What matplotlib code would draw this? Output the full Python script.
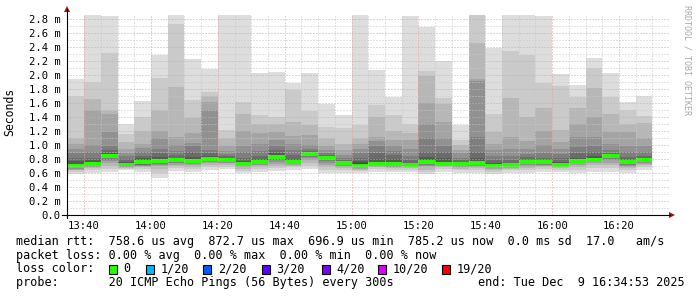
import matplotlib.pyplot as plt
from matplotlib.patches import Rectangle, Polygon
from matplotlib.lines import Line2D
from matplotlib.ticker import MultipleLocator

# minutes after 13:00, window is 13:34:53 .. 16:34:53
t_start = 34 + 53 / 60
t_end = t_start + 180
step = 5
bar_left = [35 + step * i for i in range(35)]

# sorted pings per 5 min step (ms): upper half p20..p11, lower half p1..p10
ping_hi = [
    [1.94, 1.70, 1.10, 1.02, 0.95, 0.88, 0.82, 0.77, 0.73, 0.71],
    [3.10, 1.90, 1.66, 1.50, 1.00, 0.90, 0.82, 0.78, 0.75, 0.735],
    [2.84, 2.32, 1.50, 1.44, 1.18, 0.98, 0.93, 0.89, 0.87, 0.855],
    [1.30, 1.16, 1.05, 0.95, 0.88, 0.84, 0.80, 0.76, 0.74, 0.725],
    [1.63, 1.40, 1.20, 1.01, 0.96, 0.90, 0.85, 0.81, 0.78, 0.765],
    [2.28, 1.96, 1.50, 1.20, 1.10, 0.95, 0.88, 0.83, 0.80, 0.78],
    [3.10, 2.73, 1.83, 1.12, 1.00, 0.92, 0.86, 0.82, 0.80, 0.79],
    [2.23, 1.65, 1.38, 1.17, 1.03, 0.99, 0.90, 0.83, 0.80, 0.785],
    [2.09, 1.76, 1.70, 1.62, 1.50, 0.93, 0.88, 0.84, 0.82, 0.81],
    [3.10, 1.22, 1.10, 0.98, 0.92, 0.87, 0.84, 0.82, 0.80, 0.795],
    [3.10, 1.62, 1.45, 1.20, 0.99, 0.90, 0.81, 0.77, 0.75, 0.74],
    [2.03, 1.43, 1.30, 1.17, 1.01, 0.92, 0.85, 0.80, 0.775, 0.765],
    [2.05, 1.40, 1.30, 1.19, 1.07, 0.98, 0.93, 0.88, 0.85, 0.84],
    [1.89, 1.78, 1.33, 1.13, 1.02, 0.93, 0.86, 0.80, 0.77, 0.76],
    [2.03, 1.49, 1.29, 1.15, 1.00, 0.95, 0.92, 0.90, 0.885, 0.875],
    [1.59, 1.26, 1.10, 0.98, 0.93, 0.89, 0.86, 0.84, 0.83, 0.825],
    [1.43, 1.25, 1.02, 0.93, 0.86, 0.81, 0.78, 0.76, 0.75, 0.745],
    [3.10, 1.29, 1.10, 1.02, 0.95, 0.88, 0.82, 0.77, 0.74, 0.71],
    [2.07, 1.57, 1.40, 1.12, 1.05, 0.98, 0.88, 0.80, 0.76, 0.74],
    [1.68, 1.43, 1.20, 1.07, 0.98, 0.92, 0.86, 0.80, 0.75, 0.735],
    [2.84, 1.30, 1.17, 1.07, 0.95, 0.85, 0.78, 0.75, 0.73, 0.72],
    [2.69, 2.06, 1.98, 1.60, 1.30, 1.10, 0.90, 0.83, 0.78, 0.76],
    [2.20, 1.67, 1.58, 1.33, 1.10, 0.98, 0.90, 0.82, 0.76, 0.74],
    [1.29, 1.07, 1.00, 0.93, 0.88, 0.82, 0.78, 0.75, 0.735, 0.73],
    [3.10, 3.00, 2.46, 1.95, 1.92, 1.12, 0.90, 0.81, 0.76, 0.745],
    [2.38, 1.44, 1.19, 1.02, 0.93, 0.85, 0.78, 0.74, 0.715, 0.705],
    [3.10, 2.34, 1.67, 1.12, 0.95, 0.85, 0.78, 0.74, 0.725, 0.718],
    [3.10, 2.28, 1.40, 1.06, 0.95, 0.87, 0.83, 0.79, 0.775, 0.765],
    [2.84, 1.88, 1.53, 1.20, 1.00, 0.88, 0.81, 0.78, 0.76, 0.755],
    [2.01, 1.84, 1.22, 1.05, 0.95, 0.87, 0.81, 0.76, 0.73, 0.72],
    [1.86, 1.69, 1.53, 1.30, 1.12, 0.97, 0.88, 0.82, 0.79, 0.78],
    [2.25, 2.10, 1.82, 1.40, 1.12, 0.98, 0.90, 0.84, 0.81, 0.795],
    [2.03, 1.69, 1.45, 1.19, 1.02, 0.93, 0.89, 0.87, 0.855, 0.848],
    [1.61, 1.50, 1.30, 1.19, 0.98, 0.90, 0.83, 0.78, 0.76, 0.755],
    [1.70, 1.41, 1.31, 1.10, 0.98, 0.90, 0.85, 0.82, 0.80, 0.79],
]
ping_lo = [
    [0.58, 0.62, 0.64, 0.65, 0.66, 0.67, 0.68, 0.685, 0.69, 0.695],
    [0.60, 0.65, 0.67, 0.68, 0.69, 0.70, 0.71, 0.715, 0.72, 0.725],
    [0.62, 0.66, 0.70, 0.74, 0.77, 0.79, 0.81, 0.825, 0.835, 0.84],
    [0.64, 0.66, 0.67, 0.68, 0.69, 0.70, 0.705, 0.71, 0.715, 0.718],
    [0.62, 0.66, 0.68, 0.69, 0.70, 0.71, 0.72, 0.73, 0.74, 0.75],
    [0.53, 0.60, 0.66, 0.70, 0.72, 0.735, 0.745, 0.755, 0.76, 0.765],
    [0.63, 0.67, 0.70, 0.72, 0.74, 0.75, 0.76, 0.77, 0.775, 0.78],
    [0.62, 0.66, 0.69, 0.71, 0.73, 0.745, 0.755, 0.765, 0.77, 0.775],
    [0.64, 0.68, 0.71, 0.74, 0.76, 0.78, 0.79, 0.795, 0.80, 0.803],
    [0.66, 0.69, 0.72, 0.74, 0.75, 0.76, 0.77, 0.78, 0.785, 0.79],
    [0.60, 0.63, 0.66, 0.68, 0.70, 0.71, 0.715, 0.72, 0.725, 0.73],
    [0.62, 0.66, 0.69, 0.71, 0.72, 0.73, 0.74, 0.745, 0.75, 0.755],
    [0.63, 0.67, 0.70, 0.73, 0.76, 0.78, 0.80, 0.815, 0.825, 0.83],
    [0.64, 0.68, 0.70, 0.715, 0.725, 0.73, 0.74, 0.745, 0.748, 0.75],
    [0.66, 0.70, 0.74, 0.78, 0.81, 0.83, 0.845, 0.855, 0.86, 0.867],
    [0.60, 0.65, 0.69, 0.72, 0.75, 0.77, 0.79, 0.80, 0.81, 0.815],
    [0.60, 0.64, 0.67, 0.69, 0.70, 0.71, 0.72, 0.73, 0.735, 0.74],
    [0.60, 0.63, 0.65, 0.66, 0.67, 0.68, 0.685, 0.69, 0.695, 0.70],
    [0.62, 0.66, 0.68, 0.69, 0.70, 0.71, 0.715, 0.72, 0.725, 0.728],
    [0.61, 0.65, 0.67, 0.68, 0.69, 0.70, 0.705, 0.71, 0.715, 0.72],
    [0.62, 0.65, 0.67, 0.68, 0.69, 0.695, 0.70, 0.705, 0.71, 0.712],
    [0.58, 0.62, 0.65, 0.68, 0.70, 0.72, 0.73, 0.74, 0.745, 0.75],
    [0.62, 0.66, 0.68, 0.70, 0.71, 0.715, 0.72, 0.725, 0.728, 0.73],
    [0.60, 0.64, 0.66, 0.68, 0.69, 0.70, 0.705, 0.71, 0.715, 0.72],
    [0.60, 0.64, 0.67, 0.69, 0.70, 0.71, 0.72, 0.725, 0.73, 0.735],
    [0.58, 0.62, 0.64, 0.655, 0.665, 0.675, 0.685, 0.69, 0.695, 0.698],
    [0.60, 0.64, 0.66, 0.67, 0.68, 0.69, 0.70, 0.705, 0.71, 0.712],
    [0.60, 0.64, 0.67, 0.69, 0.71, 0.725, 0.735, 0.745, 0.75, 0.758],
    [0.62, 0.66, 0.68, 0.70, 0.71, 0.72, 0.73, 0.74, 0.745, 0.75],
    [0.62, 0.65, 0.67, 0.68, 0.69, 0.695, 0.70, 0.705, 0.71, 0.712],
    [0.60, 0.65, 0.69, 0.72, 0.74, 0.75, 0.76, 0.765, 0.77, 0.773],
    [0.62, 0.67, 0.71, 0.74, 0.76, 0.77, 0.775, 0.78, 0.785, 0.788],
    [0.62, 0.67, 0.71, 0.75, 0.78, 0.80, 0.815, 0.825, 0.835, 0.84],
    [0.60, 0.64, 0.67, 0.69, 0.70, 0.715, 0.725, 0.735, 0.745, 0.75],
    [0.64, 0.68, 0.71, 0.73, 0.75, 0.76, 0.77, 0.775, 0.78, 0.783],
]
median = [0.700, 0.729, 0.847, 0.720, 0.757, 0.771, 0.786, 0.776, 0.805, 0.790,
          0.733, 0.757, 0.833, 0.752, 0.871, 0.819, 0.743, 0.700, 0.729, 0.724,
          0.714, 0.752, 0.729, 0.724, 0.738, 0.700, 0.714, 0.762, 0.752, 0.714,
          0.776, 0.790, 0.843, 0.752, 0.786]

x_ticks = [40, 60, 80, 100, 120, 140, 160, 180, 200]
x_labels = ["13:40", "14:00", "14:20", "14:40", "15:00", "15:20", "15:40", "16:00", "16:20"]
y_ticks = [0.0, 0.2, 0.4, 0.6, 0.8, 1.0, 1.2, 1.4, 1.6, 1.8, 2.0, 2.2, 2.4, 2.6, 2.8]

loss_labels = ["0", "1/20", "2/20", "3/20", "4/20", "10/20", "19/20"]
loss_colors = ["#26ff00", "#00b8ff", "#0059ff", "#5e00ff", "#7e00ff", "#dd00ff", "#ff0000"]

mono = "DejaVu Sans Mono"
W, H = 697, 297


def fx(x):
    return x / W


def fy(y):
    return 1 - y / H


fig = plt.figure(figsize=(W / 100, H / 100), dpi=100)
fig.patch.set_facecolor("white")
ax = fig.add_axes([fx(67), fy(215), 601.8 / W, 200 / H])
ax.set_xlim(t_start, t_end)
ax.set_ylim(0, 200 / 70)

# smoke: outer pair lightest, inner pairs darker (smokeping shading)
for k in range(10):
    g = int(190 / 10 * (10 - (k + 1))) + 50
    col = "#%02x%02x%02x" % (g, g, g)
    bottoms = [lo[k] for lo in ping_lo]
    heights = [hi[k] - lo[k] for hi, lo in zip(ping_hi, ping_lo)]
    ax.bar(bar_left, heights, bottom=bottoms, width=step, align="edge",
           color=col, linewidth=0, zorder=1)

# median band coloured by loss (all 0 loss here)
sw = 0.027
ax.bar(bar_left, [2 * sw] * len(median), bottom=[m - sw for m in median],
       width=step, align="edge", color=loss_colors[0], linewidth=0, zorder=1.5)

# grid
ax.set_axisbelow(False)
ax.set_xticks(x_ticks)
ax.set_xticklabels(x_labels)
ax.xaxis.set_minor_locator(MultipleLocator(5))
ax.set_yticks(y_ticks)
ax.set_yticklabels(["0.0"] + ["%.1f m" % v for v in y_ticks[1:]])
ax.yaxis.set_minor_locator(MultipleLocator(0.1))
ax.grid(which="minor", color="#c8c8c8", linestyle=(0, (1, 2)), linewidth=0.72)
ax.grid(which="major", color="#e6a0a0", linestyle=(0, (1, 2)), linewidth=0.72)
ax.tick_params(which="both", length=0)
ax.tick_params(axis="y", pad=4.5, labelsize=7.6, colors="black")
ax.tick_params(axis="x", pad=4, labelsize=7.6, colors="black")
for lab in ax.get_xticklabels() + ax.get_yticklabels():
    lab.set_family(mono)
for s in ax.spines.values():
    s.set_visible(False)

# axes lines with arrows
fig.add_artist(Line2D([fx(67), fx(67)], [fy(218), fy(9)], color="black", lw=0.8))
fig.add_artist(Line2D([fx(62), fx(670)], [fy(215), fy(215)], color="black", lw=0.8))
fig.add_artist(Polygon([[fx(64), fy(12)], [fx(70), fy(12)], [fx(67), fy(6)]],
                       closed=True, color="#9a1414", lw=0))
fig.add_artist(Polygon([[fx(669), fy(212)], [fx(669), fy(218)], [fx(675), fy(215)]],
                       closed=True, color="#9a1414", lw=0))

fig.text(fx(10), fy(112), "Seconds", rotation=90, ha="center", va="center",
         family=mono, fontsize=8.3)
fig.text(fx(687), fy(5), "RRDTOOL / TOBI OETIKER", rotation=270, ha="center", va="top",
         family=mono, fontsize=6, color="#a8a8a8")

# legend lines
lines = [
    "median rtt:  758.6 us avg  872.7 us max  696.9 us min  785.2 us now  0.0 ms sd  17.0   am/s",
    "packet loss: 0.00 % avg  0.00 % max  0.00 % min  0.00 % now",
]
for i, s in enumerate(lines):
    fig.text(fx(16), fy(241.7 + 13.7 * i), s, family=mono, fontsize=8.5, va="center")
fig.text(fx(16), fy(269), "loss color:", family=mono, fontsize=8.5, va="center")
sq_x = [108.7, 145.7, 203.3, 261.7, 321.7, 378.3, 442.3]
for x, c, lab in zip(sq_x, loss_colors, loss_labels):
    fig.add_artist(Rectangle((fx(x), fy(273.5)), 8 / W, 9 / H, facecolor=c,
                             edgecolor="black", lw=0.8))
    fig.text(fx(x + 14.5), fy(269), lab, family=mono, fontsize=8.5, va="center")
fig.text(fx(16), fy(282.7), "probe:       20 ICMP Echo Pings (56 Bytes) every 300s",
         family=mono, fontsize=8.5, va="center")
fig.text(fx(478.3), fy(282.7), "end: Tue Dec  9 16:34:53 2025",
         family=mono, fontsize=8.5, va="center")

fig.savefig("out.png", dpi=100)
